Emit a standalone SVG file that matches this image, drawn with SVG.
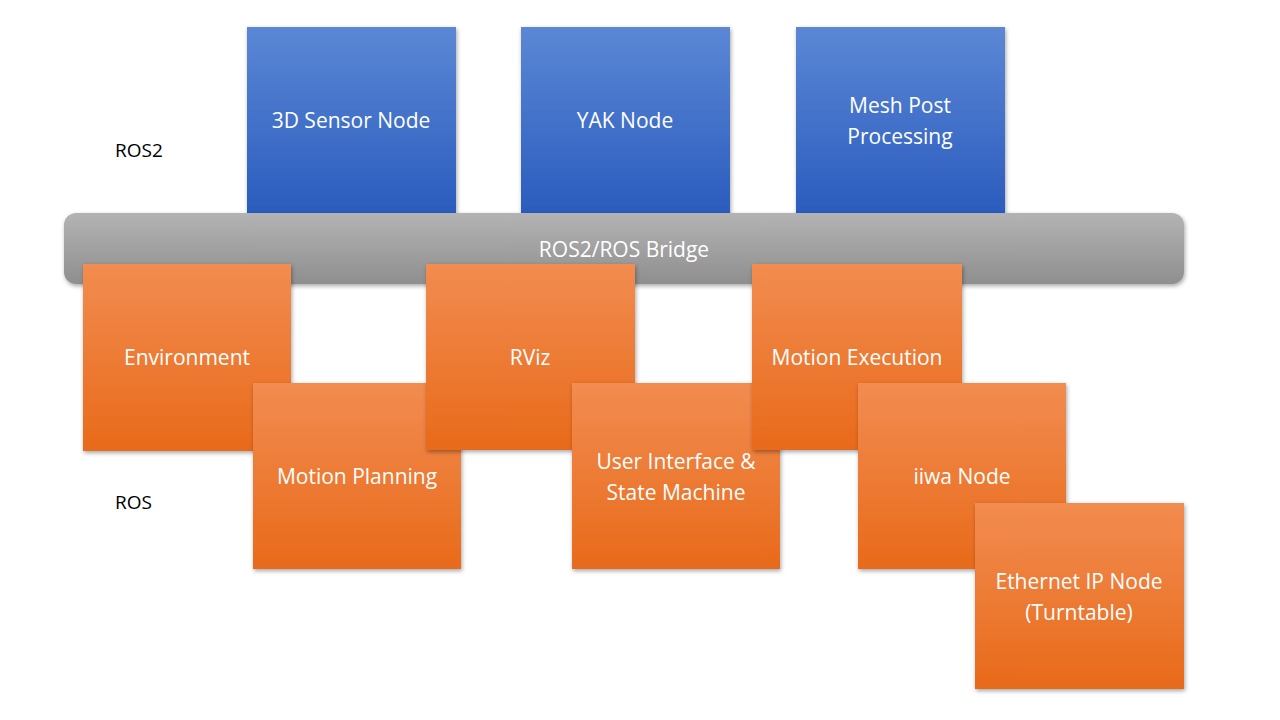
<svg xmlns="http://www.w3.org/2000/svg" width="1280" height="720" viewBox="0 0 1280 720">
<defs>
<linearGradient id="gb" x1="0" y1="0" x2="0" y2="1"><stop offset="0" stop-color="#5b87d5"/><stop offset="1" stop-color="#2b5cbe"/></linearGradient>
<linearGradient id="go" x1="0" y1="0" x2="0" y2="1"><stop offset="0" stop-color="#f28c50"/><stop offset="1" stop-color="#e86a1a"/></linearGradient>
<linearGradient id="gg" x1="0" y1="0" x2="0" y2="1"><stop offset="0" stop-color="#b3b3b3"/><stop offset="1" stop-color="#8f8f8f"/></linearGradient>
<filter id="sh" x="-10%" y="-10%" width="120%" height="120%"><feDropShadow dx="1" dy="2" stdDeviation="2" flood-color="#000" flood-opacity="0.35"/></filter>
</defs>
<style>
text{font-family:"Open Sans","Liberation Sans",sans-serif;font-size:21px;fill:#fff;text-anchor:middle}
.lbl{fill:#000;font-size:19px;text-anchor:start}
.b{fill:url(#gb);filter:url(#sh)}
.o{fill:url(#go);filter:url(#sh)}
</style>
<rect width="1280" height="720" fill="#fff"/>
<text class="lbl" x="115" y="157">ROS2</text>
<text class="lbl" x="115" y="509">ROS</text>
<g id="n3d"><rect class="b" x="247" y="27" width="209" height="186"/><text x="351" y="128">3D Sensor Node</text></g>
<g id="nyak"><rect class="b" x="521" y="27" width="209" height="186"/><text x="625" y="128">YAK Node</text></g>
<g id="nmesh"><rect class="b" x="796" y="27" width="209" height="186"/><text x="900" y="113">Mesh Post</text><text x="900" y="144">Processing</text></g>
<g id="bridge"><rect x="64" y="213" width="1120" height="71" rx="12" fill="url(#gg)" filter="url(#sh)"/><text x="624" y="257">ROS2/ROS Bridge</text></g>
<g id="nenv"><rect class="o" x="83" y="264" width="208" height="187"/><text x="187" y="365">Environment</text></g>
<g id="nmp"><rect class="o" x="253" y="383" width="208" height="186"/><text x="357" y="484">Motion Planning</text></g>
<g id="nrviz"><rect class="o" x="426" y="264" width="209" height="186"/><text x="530" y="365">RViz</text></g>
<g id="nui"><rect class="o" x="572" y="383" width="208" height="186"/><text x="676" y="469">User Interface &amp;</text><text x="676" y="500">State Machine</text></g>
<g id="nme"><rect class="o" x="752" y="264" width="210" height="186"/><text x="857" y="365">Motion Execution</text></g>
<g id="niiwa"><rect class="o" x="858" y="383" width="208" height="186"/><text x="962" y="484">iiwa Node</text></g>
<g id="neth"><rect class="o" x="975" y="503" width="209" height="186"/><text x="1079" y="589">Ethernet IP Node</text><text x="1079" y="620">(Turntable)</text></g>
<g id="connectors"></g>
</svg>
